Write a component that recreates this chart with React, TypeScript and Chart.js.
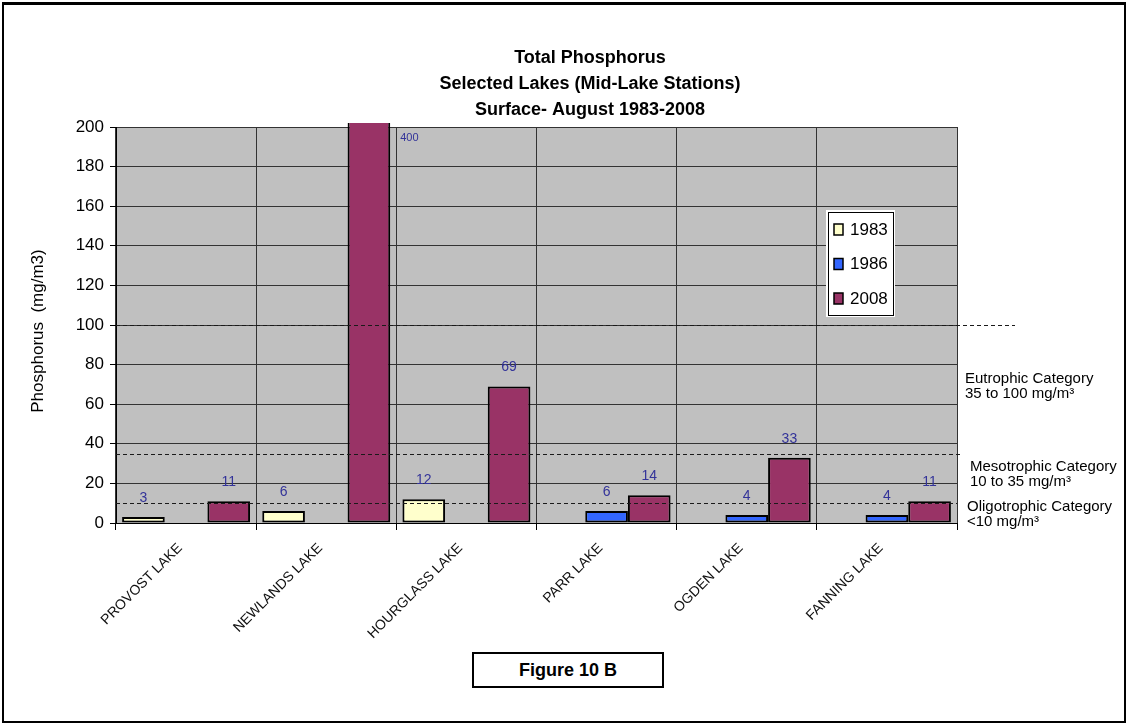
import React, { useEffect, useRef } from 'react';
import { Chart, registerables } from 'chart.js';

Chart.register(...registerables);

// Lakes sampled at their mid-lake stations
const lakes = ['PROVOST LAKE', 'NEWLANDS LAKE', 'HOURGLASS LAKE', 'PARR LAKE', 'OGDEN LAKE', 'FANNING LAKE'];
const years = ['1983', '1986', '2008'];

// Total phosphorus, surface samples, mg/m3
const tp1983 = [3, 6, 12, null, null, null];
const tp1986 = [null, null, null, 6, 4, 4];
const tp2008 = [11, 400, 69, 14, 33, 11];

const yMin = 0;
const yMax = 200;
const yStep = 20;

// Trophic category limits (mg/m3) and their notes
const trophicLimits = [100, 35, 10];
const trophicNotes = [
  ['Eutrophic Category', '35 to 100 mg/m³'],
  ['Mesotrophic Category', '10 to 35 mg/m³'],
  ['Oligotrophic Category', '<10 mg/m³'],
];

const titleLines = ['Total Phosphorus', 'Selected Lakes (Mid-Lake Stations)', 'Surface- August 1983-2008'];
const yTitle = 'Phosphorus  (mg/m3)';
const figureLabel = 'Figure 10 B';

const barColors = ['#ffffcc', '#3366ff', '#993366'];
const labelColor = '#333399';
const FONT = 'Arial, "Liberation Sans", sans-serif';

const decorPlugin = {
  id: 'figureDecor',
  beforeDraw(chart: any) {
    const { ctx, chartArea: a } = chart;
    ctx.save();
    ctx.fillStyle = '#c0c0c0';
    ctx.fillRect(a.left, a.top, a.right - a.left, a.bottom - a.top);
    ctx.restore();
  },
  afterDatasetsDraw(chart: any) {
    const { ctx, chartArea: a } = chart;
    const yScale = chart.scales.y;

    // dashed category limit lines
    const lineEnds = [a.right + 58, a.right + 5, a.right];
    ctx.save();
    ctx.strokeStyle = '#1a1a1a';
    ctx.lineWidth = 1;
    ctx.setLineDash([4, 3]);
    trophicLimits.forEach((v, i) => {
      const y = Math.round(yScale.getPixelForValue(v)) + 0.5;
      ctx.beginPath();
      ctx.moveTo(a.left, y);
      ctx.lineTo(lineEnds[i], y);
      ctx.stroke();
    });
    ctx.restore();

    // value labels
    ctx.save();
    ctx.fillStyle = labelColor;
    chart.data.datasets.forEach((ds: any, di: number) => {
      const meta = chart.getDatasetMeta(di);
      meta.data.forEach((bar: any, i: number) => {
        const v = ds.data[i];
        if (v === null || v === undefined) return;
        if (v > yMax) {
          ctx.font = `11px ${FONT}`;
          ctx.textAlign = 'left';
          ctx.textBaseline = 'middle';
          ctx.fillText(String(v), bar.x + bar.width / 2 + 10, a.top + 11);
        } else {
          ctx.font = `14px ${FONT}`;
          ctx.textAlign = 'center';
          ctx.textBaseline = 'middle';
          ctx.fillText(String(v), bar.x, bar.y - 19);
        }
      });
    });
    ctx.restore();

    // legend box inside the plot
    const lx = 828, ly = 212, lw = 65, lh = 103;
    ctx.save();
    ctx.fillStyle = '#ffffff';
    ctx.fillRect(lx - 2, ly - 2, lw + 4, lh + 4);
    ctx.strokeStyle = '#000000';
    ctx.lineWidth = 1;
    ctx.strokeRect(lx + 0.5, ly + 0.5, lw, lh);
    ctx.font = `17px ${FONT}`;
    ctx.textAlign = 'left';
    ctx.textBaseline = 'middle';
    years.forEach((yr, i) => {
      const cy = ly + 17 + i * 34.5;
      ctx.fillStyle = barColors[i];
      ctx.fillRect(lx + 6, cy - 5, 9, 11);
      ctx.strokeStyle = '#000';
      ctx.lineWidth = 1.5;
      ctx.strokeRect(lx + 6, cy - 5, 9, 11);
      ctx.fillStyle = '#000';
      ctx.fillText(yr, lx + 22, cy + 1);
    });
    ctx.restore();
  },
  afterDraw(chart: any) {
    const { ctx, chartArea: a } = chart;
    ctx.save();
    ctx.fillStyle = '#000';

    // title
    ctx.font = `bold 18px ${FONT}`;
    ctx.textAlign = 'center';
    ctx.textBaseline = 'middle';
    titleLines.forEach((t, i) => ctx.fillText(t, 590, 58 + i * 26));

    // y axis title
    ctx.save();
    ctx.translate(38, 331);
    ctx.rotate(-Math.PI / 2);
    ctx.font = `17px ${FONT}`;
    ctx.fillText(yTitle, 0, 0);
    ctx.restore();

    // category notes at the right
    const notePos = [
      [a.right + 8, 379],
      [a.right + 13, 467],
      [a.right + 10, 507],
    ];
    ctx.font = `15px ${FONT}`;
    ctx.textAlign = 'left';
    trophicNotes.forEach((lines, i) => {
      lines.forEach((t, j) => ctx.fillText(t, notePos[i][0], notePos[i][1] + j * 15));
    });
    ctx.restore();
  },
};

export default function App() {
  const canvasRef = useRef<HTMLCanvasElement | null>(null);

  useEffect(() => {
    if (!canvasRef.current) return;
    const chart = new Chart(canvasRef.current, {
      type: 'bar',
      data: {
        labels: lakes,
        datasets: [
          { label: years[0], data: tp1983, backgroundColor: barColors[0] },
          { label: years[1], data: tp1986, backgroundColor: barColors[1] },
          { label: years[2], data: tp2008, backgroundColor: barColors[2], clip: { left: 0, top: 4, right: 0, bottom: 0 } as any },
        ].map((d) => ({
          ...d,
          borderColor: '#000000',
          borderWidth: 2,
          borderSkipped: false,
          categoryPercentage: 0.913,
          barPercentage: 1.0,
        })) as any,
      },
      options: {
        responsive: false,
        animation: false,
        layout: { padding: { left: 20, top: 127, right: 170, bottom: 0 } },
        plugins: {
          legend: { display: false },
          tooltip: { enabled: false },
          title: { display: false },
        },
        scales: {
          x: {
            offset: true,
            grid: { offset: true, color: '#333333', lineWidth: 1, tickLength: 7, tickColor: '#000' },
            border: { color: '#000', width: 1 },
            ticks: {
              autoSkip: false,
              minRotation: 45,
              maxRotation: 45,
              color: '#111',
              padding: 10,
              labelOffset: -6,
              font: { family: FONT, size: 14 },
            },
            afterFit: (s: any) => {
              s.height = 200;
            },
          },
          y: {
            min: yMin,
            max: yMax,
            grid: { color: '#333333', lineWidth: 1, tickLength: 6, tickColor: '#000' },
            border: { color: '#000', width: 1 },
            ticks: {
              stepSize: yStep,
              color: '#000',
              padding: 6,
              font: { family: FONT, size: 17 },
            },
            afterFit: (s: any) => {
              s.width = 96;
            },
          },
        },
      },
      plugins: [decorPlugin],
    });
    return () => chart.destroy();
  }, []);

  return (
    <div style={{ position: 'absolute', left: 0, top: 0, width: 1127, height: 723, background: '#fff', overflow: 'hidden' }}>
      <canvas ref={canvasRef} width={1127} height={723} style={{ position: 'absolute', left: 0, top: 0 }} />
      <div
        style={{
          position: 'absolute',
          left: 2,
          top: 2,
          width: 1120,
          height: 716,
          borderTop: '3px solid #000',
          borderLeft: '2px solid #000',
          borderRight: '2px solid #000',
          borderBottom: '2px solid #000',
          pointerEvents: 'none',
        }}
      />
      <div
        style={{
          position: 'absolute',
          left: 472,
          top: 652,
          width: 188,
          height: 32,
          border: '2px solid #000',
          background: '#fff',
          display: 'flex',
          alignItems: 'center',
          justifyContent: 'center',
          font: `bold 18px ${FONT}`,
          color: '#000',
        }}
      >
        {figureLabel}
      </div>
    </div>
  );
}
